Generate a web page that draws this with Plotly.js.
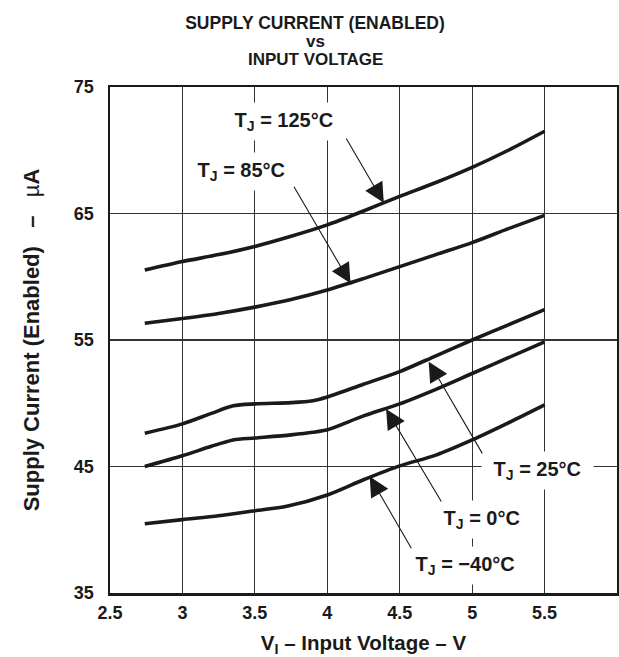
<!DOCTYPE html>
<html>
<head>
<meta charset="utf-8">
<script src="https://cdn.plot.ly/plotly-3.0.1.min.js"></script>
<style>html,body{margin:0;padding:0;background:#fff;}#chart{width:619px;height:657px;}</style>
</head>
<body>
<div id="chart"></div>
<script>
// Input voltage (V) sample points, per curve
const x125 = [2.74, 3.0, 3.25, 3.5, 3.75, 4.0, 4.25, 4.5, 4.75, 5.0, 5.25, 5.5];
const y125 = [60.53, 61.2, 61.75, 62.4, 63.2, 64.1, 65.2, 66.35, 67.45, 68.65, 70.0, 71.5];

const x85 = [2.74, 3.0, 3.25, 3.5, 3.75, 4.0, 4.25, 4.5, 4.75, 5.0, 5.25, 5.5];
const y85 = [56.32, 56.7, 57.1, 57.6, 58.2, 58.95, 59.85, 60.8, 61.75, 62.7, 63.8, 64.85];

const x25 = [2.74, 3.0, 3.2, 3.35, 3.5, 3.75, 3.9, 4.0, 4.25, 4.5, 4.75, 5.0, 5.25, 5.5];
const y25 = [47.63, 48.37, 49.2, 49.8, 49.95, 50.05, 50.2, 50.5, 51.5, 52.5, 53.75, 55.0, 56.2, 57.4];

const x0 = [2.74, 3.0, 3.2, 3.35, 3.5, 3.75, 3.9, 4.0, 4.25, 4.5, 4.75, 5.0, 5.25, 5.5];
const y0 = [45.0, 45.85, 46.6, 47.1, 47.25, 47.5, 47.7, 47.9, 49.0, 49.95, 51.1, 52.35, 53.6, 54.85];

const xm40 = [2.74, 3.0, 3.25, 3.5, 3.72, 4.0, 4.25, 4.5, 4.75, 5.0, 5.25, 5.5];
const ym40 = [40.47, 40.8, 41.1, 41.5, 41.85, 42.75, 43.95, 45.05, 45.9, 47.1, 48.45, 49.87];

const xTickVals = [2.5, 3, 3.5, 4, 4.5, 5, 5.5, 6];
const xTickText = ["2.5", "3", "3.5", "4", "4.5", "5", "5.5", "6"];
const yTickVals = [35, 45, 55, 65, 75];
const yTickText = ["35", "45", "55", "65", "75"];

const titleLines = ["SUPPLY CURRENT (ENABLED)", "vs", "INPUT VOLTAGE"];

// Curve labels: text, label position, arrow tip, arrow tail
const labelText = ["T<sub>J</sub> = 125°C", "T<sub>J</sub> = 85°C", "T<sub>J</sub> = 25°C", "T<sub>J</sub> = 0°C", "T<sub>J</sub> = −40°C"];
const labelX = [3.70, 3.405, 5.45, 5.07, 4.95];
const labelY = [72.3, 68.3, 44.7, 40.85, 37.2];
const tipX = [4.39, 4.16, 4.70, 4.406, 4.293];
const tipY = [65.84, 59.48, 53.29, 49.55, 44.21];
const tailX = [4.125, 3.764, 5.076, 4.793, 4.586];
const tailY = [71.05, 67.24, 45.92, 42.11, 38.42];

const FONT = "Arial, 'Liberation Sans', Helvetica, sans-serif";
const INK = "#1a1a1a";
const NB = "\u00A0";
const lineStyle = {color: INK, width: 3.6, shape: "spline", smoothing: 0.8};

const traces = [
  [x125, y125], [x85, y85], [x25, y25], [x0, y0], [xm40, ym40]
].map(([x, y]) => ({x, y, type: "scatter", mode: "lines", line: lineStyle, hoverinfo: "skip"}));

const annotations = [];
for (let i = 0; i < labelText.length; i++) {
  annotations.push({
    x: labelX[i], y: labelY[i], xref: "x", yref: "y",
    text: "<b>" + NB + labelText[i] + NB + "</b>", showarrow: false,
    bgcolor: "#ffffff", borderpad: 6,
    font: {family: FONT, size: 20, color: INK}
  });
}
for (let i = 0; i < labelText.length; i++) {
  annotations.push({
    x: tipX[i], y: tipY[i], xref: "x", yref: "y",
    ax: tailX[i], ay: tailY[i], axref: "x", ayref: "y",
    text: "", showarrow: true, arrowhead: 2, arrowsize: 3.6, arrowwidth: 1.1,
    arrowcolor: INK, standoff: 0, startstandoff: 0
  });
}
// second and third title lines
annotations.push({
  xref: "paper", yref: "paper", x: (315 - 110) / 507, y: 1.0899, xanchor: "center", yanchor: "middle",
  text: "<b>" + titleLines[1] + "</b>", showarrow: false,
  font: {family: FONT, size: 17, color: INK}
});
annotations.push({
  xref: "paper", yref: "paper", x: (315 - 110) / 507, y: 1.0534, xanchor: "center", yanchor: "middle",
  text: "<b>" + titleLines[2] + "</b>", showarrow: false,
  font: {family: FONT, size: 17, color: INK}
});

const layout = {
  width: 619, height: 657,
  margin: {l: 110, r: 2, t: 87, b: 64},
  paper_bgcolor: "#ffffff", plot_bgcolor: "#ffffff",
  showlegend: false,
  title: {
    text: "<b>" + titleLines[0] + "</b>",
    font: {family: FONT, size: 17.5, color: INK},
    xref: "container", yref: "container",
    x: 315 / 619, xanchor: "center", y: 1 - 23 / 657, yanchor: "middle", pad: {t: 0, b: 0, l: 0, r: 0}
  },
  xaxis: {
    range: [2.5, 6], tickvals: xTickVals, ticktext: xTickText,
    showgrid: true, gridcolor: "#333333", gridwidth: 1.2,
    showline: true, linecolor: INK, linewidth: 2.5, mirror: true,
    ticks: "", zeroline: false, ticklabelstandoff: 2,
    tickfont: {family: FONT, size: 18, color: INK, weight: "bold"},
    title: {text: "<b>V<sub>I</sub> – Input Voltage – V</b>", font: {family: FONT, size: 20.5, color: INK}, standoff: 14}
  },
  yaxis: {
    range: [35, 75], tickvals: yTickVals, ticktext: yTickText,
    showgrid: true, gridcolor: "#333333", gridwidth: 1.2,
    showline: true, linecolor: INK, linewidth: 2.5, mirror: true,
    ticks: "", zeroline: false, ticklabelstandoff: 10,
    tickfont: {family: FONT, size: 18, color: INK, weight: "bold"},
    title: {text: "<b>Supply Current (Enabled)" + NB + NB + NB + "–" + NB + NB + NB + "</b>µ<b>A</b>", font: {family: FONT, size: 22, color: INK}, standoff: 28}
  },
  annotations: annotations
};

Plotly.newPlot("chart", traces, layout, {staticPlot: true, displayModeBar: false});
</script>
</body>
</html>
